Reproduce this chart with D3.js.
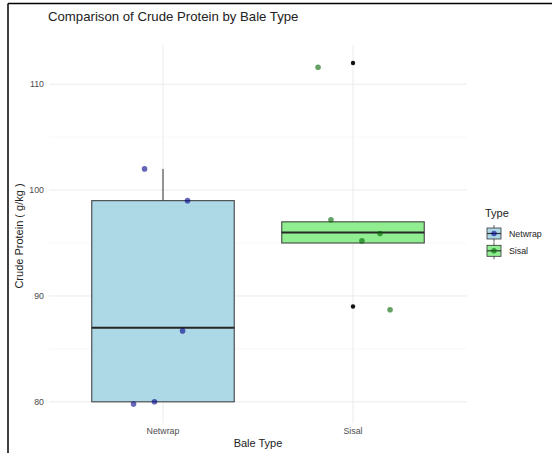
<!DOCTYPE html>
<html>
<head>
<meta charset="utf-8">
<script src="https://cdn.jsdelivr.net/npm/d3@7"></script>
<style>
  body { margin: 0; background: #fff; }
  svg { display: block; font-family: "Liberation Sans", Arial, sans-serif; }
</style>
</head>
<body>
<div id="chart"></div>
<script>
const width = 552;
const height = 453;

const types = ["Netwrap", "Sisal"];
const fills = ["#ADD8E6", "#90EE90"];
const pointColors = ["#00008B", "#006400"];
const yTicks = [80, 90, 100, 110];

// raw crude protein values per bale type (used for box stats)
const netwrapValues = [80, 80, 87, 99, 102];
const sisalValues = [89, 95, 96, 97, 112];

// jittered points as they appear (x offset in category units, y value)
const netwrapJitterX = [-0.155, -0.045, 0.103, 0.129, -0.097];
const netwrapJitterY = [79.8, 80.0, 86.7, 99.0, 102.0];
const sisalJitterX = [0.195, 0.047, 0.142, -0.116, -0.184];
const sisalJitterY = [88.7, 95.2, 95.9, 97.2, 111.6];

const groups = [
  { type: types[0], values: netwrapValues, jx: netwrapJitterX, jy: netwrapJitterY },
  { type: types[1], values: sisalValues, jx: sisalJitterX, jy: sisalJitterY }
];

const margin = { left: 49, right: 85, top: 45, bottom: 30 };
const panelRight = width - margin.right;
const panelBottom = height - margin.bottom;

// ggplot-like discrete scale: positions 1..n, expanded by 0.6
const x = d3.scaleLinear()
  .domain([0.4, types.length + 0.6])
  .range([margin.left, panelRight]);
const y = d3.scaleLinear()
  .domain([78.0, 113.7])
  .range([panelBottom, margin.top]);

const svg = d3.select("#chart")
  .append("svg")
  .attr("width", width)
  .attr("height", height);

// frame (screenshot edge)
svg.append("line").attr("x1", 8).attr("x2", 8).attr("y1", 3.5).attr("y2", height)
  .attr("stroke", "#000").attr("stroke-width", 1.5);
svg.append("line").attr("x1", 8).attr("x2", width).attr("y1", 3.5).attr("y2", 3.5)
  .attr("stroke", "#000").attr("stroke-width", 1.5);

// grid
const grid = svg.append("g").attr("fill", "none");
const minor = d3.range(85, 110, 10);
grid.selectAll(".minor").data(minor).join("line")
  .attr("x1", margin.left).attr("x2", panelRight)
  .attr("y1", d => y(d)).attr("y2", d => y(d))
  .attr("stroke", "#f2f2f2").attr("stroke-width", 0.6);
grid.selectAll(".major").data(yTicks).join("line")
  .attr("x1", margin.left).attr("x2", panelRight)
  .attr("y1", d => y(d)).attr("y2", d => y(d))
  .attr("stroke", "#ebebeb").attr("stroke-width", 1);
grid.selectAll(".vx").data(types).join("line")
  .attr("x1", (d, i) => x(i + 1)).attr("x2", (d, i) => x(i + 1))
  .attr("y1", margin.top).attr("y2", panelBottom)
  .attr("stroke", "#ebebeb").attr("stroke-width", 1);

// boxes
const boxW = 0.75;
groups.forEach((g, i) => {
  const v = g.values.slice().sort(d3.ascending);
  const q1 = d3.quantile(v, 0.25), med = d3.quantile(v, 0.5), q3 = d3.quantile(v, 0.75);
  const iqr = q3 - q1;
  const inside = v.filter(d => d >= q1 - 1.5 * iqr && d <= q3 + 1.5 * iqr);
  const lo = d3.min(inside), hi = d3.max(inside);
  const outliers = v.filter(d => d < q1 - 1.5 * iqr || d > q3 + 1.5 * iqr);
  const cx = x(i + 1);
  const x0 = x(i + 1 - boxW / 2), x1 = x(i + 1 + boxW / 2);
  const bg = svg.append("g");
  bg.append("line").attr("x1", cx).attr("x2", cx).attr("y1", y(q3)).attr("y2", y(hi))
    .attr("stroke", "#333").attr("stroke-width", 1);
  bg.append("line").attr("x1", cx).attr("x2", cx).attr("y1", y(q1)).attr("y2", y(lo))
    .attr("stroke", "#333").attr("stroke-width", 1);
  bg.append("rect").attr("x", x0).attr("y", y(q3))
    .attr("width", x1 - x0).attr("height", y(q1) - y(q3))
    .attr("fill", fills[i]).attr("stroke", "#333").attr("stroke-opacity", 0.9).attr("stroke-width", 1.1);
  bg.append("line").attr("x1", x0).attr("x2", x1).attr("y1", y(med)).attr("y2", y(med))
    .attr("stroke", "#262626").attr("stroke-width", 2);
  bg.selectAll("circle").data(outliers).join("circle")
    .attr("cx", cx).attr("cy", d => y(d)).attr("r", 2.2).attr("fill", "#111");
});

// jittered points
groups.forEach((g, i) => {
  svg.append("g").selectAll("circle").data(g.jy).join("circle")
    .attr("cx", (d, k) => x(i + 1 + g.jx[k]))
    .attr("cy", d => y(d))
    .attr("r", 2.8)
    .attr("fill", pointColors[i])
    .attr("fill-opacity", 0.6);
});

// axes text
svg.append("g").selectAll("text").data(yTicks).join("text")
  .attr("x", margin.left - 5).attr("y", d => y(d)).attr("dy", "0.35em")
  .attr("text-anchor", "end").attr("font-size", 8.8).attr("fill", "#4d4d4d")
  .text(d => d);
svg.append("g").selectAll("text").data(types).join("text")
  .attr("x", (d, i) => x(i + 1)).attr("y", panelBottom + 11)
  .attr("text-anchor", "middle").attr("font-size", 8.8).attr("fill", "#4d4d4d")
  .text(d => d);

svg.append("text")
  .attr("x", (margin.left + panelRight) / 2).attr("y", panelBottom + 24)
  .attr("text-anchor", "middle").attr("font-size", 11).attr("fill", "#222")
  .text("Bale Type");
svg.append("text")
  .attr("transform", `translate(23,${(margin.top + panelBottom) / 2 + 2}) rotate(-90)`)
  .attr("text-anchor", "middle").attr("font-size", 11).attr("fill", "#222")
  .text("Crude Protein ( g/kg )");

svg.append("text")
  .attr("x", 48).attr("y", 21)
  .attr("font-size", 13.2).attr("fill", "#222")
  .text("Comparison of Crude Protein by Bale Type");

// legend
const legend = svg.append("g").attr("transform", "translate(485,0)");
legend.append("text").attr("x", 0).attr("y", 217)
  .attr("font-size", 11).attr("fill", "#222").text("Type");
const key = legend.selectAll(".key").data(types).join("g")
  .attr("transform", (d, i) => `translate(1,${225 + i * 17.3})`);
key.append("line").attr("x1", 8).attr("x2", 8).attr("y1", 0).attr("y2", 17)
  .attr("stroke", "#333").attr("stroke-width", 0.8);
key.append("rect").attr("x", 1).attr("y", 3).attr("width", 14).attr("height", 11)
  .attr("fill", (d, i) => fills[i]).attr("stroke", "#333").attr("stroke-width", 0.8);
key.append("line").attr("x1", 1).attr("x2", 15).attr("y1", 8.5).attr("y2", 8.5)
  .attr("stroke", "#333").attr("stroke-width", 1.2);
key.append("circle").attr("cx", 8).attr("cy", 8.5).attr("r", 2.8)
  .attr("fill", (d, i) => pointColors[i]).attr("fill-opacity", 0.6);
key.append("text").attr("x", 23).attr("y", 8.5).attr("dy", "0.35em")
  .attr("font-size", 8.8).attr("fill", "#222").text(d => d);
</script>
</body>
</html>
